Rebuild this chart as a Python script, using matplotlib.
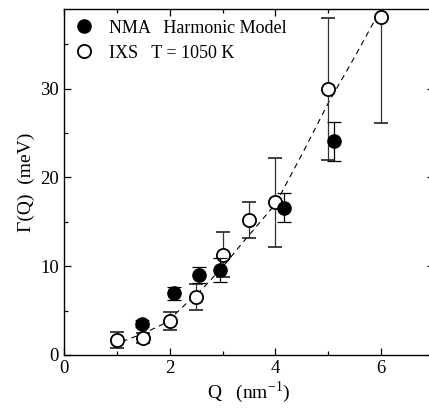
import matplotlib
matplotlib.use("Agg")
import matplotlib.pyplot as plt
from matplotlib.lines import Line2D
from matplotlib.ticker import MultipleLocator

plt.rcParams['font.family'] = ['Liberation Serif', 'DejaVu Serif']
plt.rcParams['mathtext.fontset'] = 'stix'

# IXS (open circles)
q_ixs = [1.0, 1.5, 2.0, 2.5, 3.0, 3.5, 4.0, 5.0, 6.0]
g_ixs = [1.7, 1.9, 3.85, 6.5, 11.3, 15.2, 17.2, 30.0, 38.1]
e_ixs = [0.9, 0.6, 1.0, 1.45, 2.5, 2.0, 5.0, 8.0, 12.0]

# NMA harmonic model (filled circles)
q_nma = [1.47, 2.08, 2.55, 2.95, 4.17, 5.1]
g_nma = [3.5, 6.95, 8.95, 9.6, 16.6, 24.05]
e_nma = [0.4, 0.75, 0.9, 1.35, 1.65, 2.15]

# dashed guide curve
q_fit = [1.1, 1.34, 1.5, 1.85, 2.0, 2.35, 2.5, 3.0, 3.4, 3.5, 4.0, 4.5, 5.0, 5.5, 5.95]
g_fit = [1.5, 2.05, 2.4, 3.4, 4.0, 6.0, 6.7, 9.9, 12.8, 13.5, 17.0, 22.6, 28.4, 33.6, 38.5]

fig = plt.figure(figsize=(4.29, 4.20), dpi=100)
ax = fig.add_axes([0.149, 0.155, 0.863, 0.824])

ax.plot(q_fit, g_fit, '--', color='black', lw=0.8, dashes=(5, 4), zorder=1)

ax.errorbar(q_ixs, g_ixs, yerr=e_ixs, fmt='o', mfc='white', mec='black', mew=1.3,
            ms=9.5, ecolor='#333333', elinewidth=0.9, capsize=4.8, capthick=0.9, zorder=3)
ax.errorbar(q_nma, g_nma, yerr=e_nma, fmt='o', mfc='black', mec='black',
            ms=9.5, ecolor='black', elinewidth=0.9, capsize=4.8, capthick=0.9, zorder=4)

ax.set_xlim(0, 7)
ax.set_ylim(0, 39)
ax.xaxis.set_major_locator(MultipleLocator(2))
ax.xaxis.set_minor_locator(MultipleLocator(1))
ax.yaxis.set_major_locator(MultipleLocator(10))
ax.yaxis.set_minor_locator(MultipleLocator(5))
ax.tick_params(which='both', direction='in', top=True, right=True, labelsize=13.5, width=0.9)
ax.tick_params(which='major', length=5)
ax.tick_params(which='minor', length=3)
for s in ax.spines.values():
    s.set_linewidth(1.0)

ax.set_xlabel(r'Q   (nm$^{\mathregular{-1}}$)', fontsize=14, labelpad=2)
ax.set_ylabel('Γ(Q)  (meV)', fontsize=14, labelpad=4)

handles = [
    Line2D([], [], ls='none', marker='o', ms=9.5, mfc='black', mec='black'),
    Line2D([], [], ls='none', marker='o', ms=9.5, mfc='white', mec='black', mew=1.3),
]
labels = ['NMA   Harmonic Model', 'IXS   T = 1050 K']
ax.legend(handles, labels, loc='upper left', frameon=False,
          fontsize=13, handletextpad=0.9, labelspacing=0.45,
          borderaxespad=0.4, handlelength=1.0, borderpad=0.2)

fig.savefig('out.png', dpi=100)
